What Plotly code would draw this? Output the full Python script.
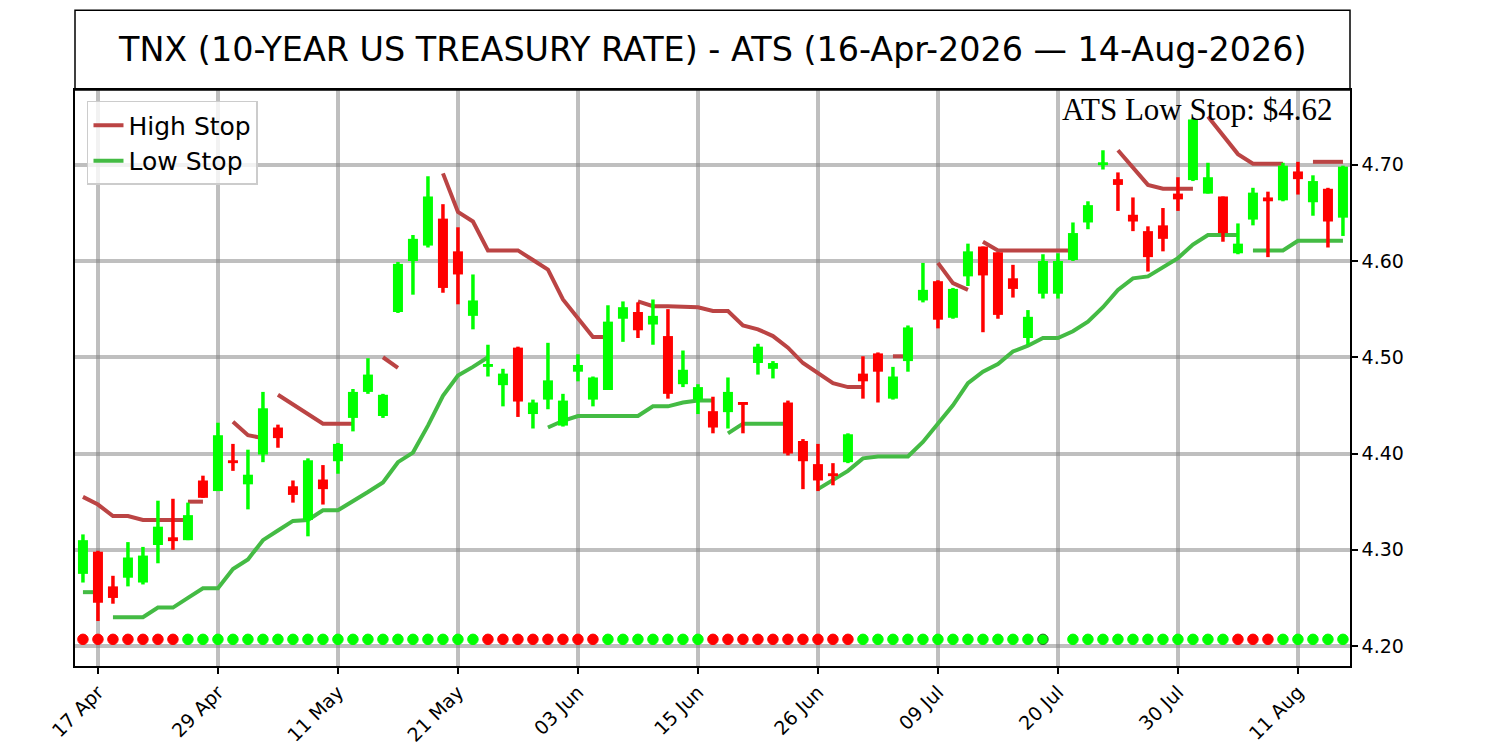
import plotly.graph_objects as go

# values; x is the trading-day position
tick_pos = [1, 9, 17, 25, 33, 41, 49, 57, 65, 73, 81]
tick_labels = ["17 Apr", "29 Apr", "11 May", "21 May", "03 Jun", "15 Jun",
               "26 Jun", "09 Jul", "20 Jul", "30 Jul", "11 Aug"]

opens = [4.275, 4.298, 4.262, 4.271, 4.266, 4.305, 4.313, 4.310, 4.372, 4.361,
         4.393, 4.368, 4.399, 4.427, 4.366, 4.331, 4.373, 4.392, 4.437, 4.464,
         4.439, 4.547, 4.600, 4.616, 4.644, 4.610, 4.543, 4.490, 4.471, 4.510,
         4.441, 4.456, 4.429, 4.485, 4.456, 4.466, 4.540, 4.547, 4.534, 4.522,
         4.472, 4.456, 4.444, 4.443, 4.453, 4.494, 4.488, 4.453, 4.413, 4.389,
         4.379, 4.391, 4.483, 4.504, 4.457, 4.496, 4.559, 4.579, 4.541, 4.584,
         4.615, 4.609, 4.582, 4.520, 4.566, 4.566, 4.601, 4.640, 4.700, 4.685,
         4.648, 4.631, 4.637, 4.670, 4.684, 4.670, 4.667, 4.608, 4.643, 4.666,
         4.663, 4.693, 4.661, 4.675, 4.645]
highs = [4.316, 4.299, 4.273, 4.308, 4.303, 4.351, 4.353, 4.349, 4.377, 4.432,
         4.410, 4.404, 4.464, 4.430, 4.372, 4.395, 4.388, 4.411, 4.467, 4.499,
         4.462, 4.599, 4.627, 4.688, 4.659, 4.635, 4.586, 4.513, 4.488, 4.511,
         4.456, 4.515, 4.462, 4.503, 4.480, 4.554, 4.558, 4.557, 4.560, 4.550,
         4.507, 4.472, 4.459, 4.479, 4.453, 4.514, 4.496, 4.455, 4.415, 4.410,
         4.390, 4.421, 4.501, 4.505, 4.490, 4.533, 4.598, 4.580, 4.572, 4.618,
         4.615, 4.609, 4.596, 4.549, 4.607, 4.608, 4.640, 4.662, 4.715, 4.692,
         4.666, 4.636, 4.655, 4.687, 4.748, 4.702, 4.667, 4.639, 4.676, 4.672,
         4.702, 4.703, 4.689, 4.676, 4.699]
lows = [4.266, 4.226, 4.244, 4.262, 4.264, 4.286, 4.300, 4.310, 4.354, 4.361,
        4.382, 4.342, 4.391, 4.406, 4.349, 4.314, 4.347, 4.379, 4.423, 4.462,
        4.437, 4.546, 4.565, 4.614, 4.567, 4.555, 4.529, 4.480, 4.449, 4.438,
        4.426, 4.446, 4.428, 4.475, 4.449, 4.466, 4.516, 4.520, 4.513, 4.457,
        4.469, 4.441, 4.421, 4.426, 4.421, 4.482, 4.478, 4.398, 4.363, 4.361,
        4.367, 4.390, 4.457, 4.453, 4.456, 4.485, 4.557, 4.530, 4.540, 4.574,
        4.526, 4.540, 4.562, 4.513, 4.561, 4.561, 4.600, 4.633, 4.695, 4.652,
        4.631, 4.589, 4.610, 4.652, 4.683, 4.670, 4.620, 4.607, 4.637, 4.604,
        4.662, 4.669, 4.647, 4.614, 4.626]
closes = [4.310, 4.245, 4.250, 4.292, 4.294, 4.324, 4.309, 4.336, 4.354, 4.419,
          4.390, 4.378, 4.447, 4.416, 4.357, 4.393, 4.363, 4.410, 4.464, 4.482,
          4.461, 4.597, 4.623, 4.667, 4.572, 4.586, 4.559, 4.493, 4.483, 4.454,
          4.453, 4.476, 4.455, 4.492, 4.479, 4.537, 4.552, 4.528, 4.543, 4.462,
          4.487, 4.469, 4.427, 4.464, 4.451, 4.511, 4.494, 4.400, 4.392, 4.372,
          4.377, 4.420, 4.475, 4.485, 4.480, 4.531, 4.570, 4.539, 4.571, 4.610,
          4.585, 4.544, 4.571, 4.542, 4.600, 4.600, 4.629, 4.658, 4.702, 4.679,
          4.641, 4.604, 4.623, 4.664, 4.747, 4.687, 4.629, 4.618, 4.671, 4.662,
          4.699, 4.685, 4.683, 4.641, 4.698]

# stop lines come in pieces: (first position, values)
high_stop_segments = [
    (0, [4.355, 4.347, 4.335, 4.335, 4.331, 4.331, 4.331, 4.331]),
    (7, [4.350, 4.350]),
    (10, [4.433, 4.419, 4.416]),
    (13, [4.461, 4.451, 4.441, 4.431, 4.431, 4.431]),
    (20, [4.500, 4.489]),
    (24, [4.691, 4.651, 4.641, 4.611, 4.611, 4.611, 4.601, 4.591, 4.560,
          4.540, 4.521, 4.521]),
    (37, [4.558, 4.553, 4.553, 4.552, 4.552, 4.548, 4.548, 4.533, 4.529,
          4.522, 4.510, 4.494, 4.483, 4.473, 4.469, 4.469]),
    (54, [4.501, 4.501]),
    (57, [4.598, 4.577, 4.570]),
    (60, [4.620, 4.611, 4.611, 4.611, 4.611, 4.611, 4.611]),
    (69, [4.715, 4.697, 4.679, 4.675, 4.675, 4.675]),
    (75, [4.750, 4.731, 4.711, 4.701, 4.701, 4.701]),
    (82, [4.703, 4.703, 4.703]),
]
low_stop_segments = [
    (0, [4.256, 4.256]),
    (2, [4.230, 4.230, 4.230, 4.240, 4.240, 4.250, 4.260, 4.260, 4.280, 4.290,
         4.310, 4.320, 4.330, 4.331, 4.341, 4.341, 4.350, 4.360, 4.370, 4.391,
         4.401, 4.429, 4.460, 4.481, 4.490, 4.500]),
    (31, [4.427, 4.434, 4.439, 4.439, 4.439, 4.439, 4.439, 4.449, 4.449,
          4.453, 4.455, 4.455]),
    (43, [4.421, 4.431, 4.431, 4.431, 4.431]),
    (49, [4.363, 4.372, 4.382, 4.395, 4.397, 4.397, 4.397, 4.412, 4.431,
          4.450, 4.473, 4.485, 4.493, 4.506, 4.512, 4.520, 4.520, 4.527,
          4.537, 4.552, 4.570, 4.582, 4.584, 4.593, 4.603, 4.617, 4.627,
          4.627, 4.627]),
    (78, [4.611, 4.611, 4.611, 4.621, 4.621, 4.621, 4.621]),
]

# trend dots along the bottom: U up, D down, - no dot
trend = ("DDDDDDD" + "U" * 20 + "D" * 8 + "U" * 7 + "D" * 10 + "U" * 13 + "-"
         + "U" * 11 + "DDD" + "U" * 5)
outlined_dots = [64]
dot_level = 4.207
last_low_stop = 4.62

title = "TNX (10-YEAR US TREASURY RATE) - ATS (16-Apr-2026 \u2014 14-Aug-2026)"

UP = "#00ff00"
DOWN = "#ff0000"
HIGH_C = "#bb4444"
LOW_C = "#44bb44"
FONT = "DejaVu Sans"


def seg_xy(segments):
    xs, ys = [], []
    for start, vals in segments:
        xs += list(range(start, start + len(vals))) + [None]
        ys += list(vals) + [None]
    return xs, ys


def candle_xy(up):
    wx, wy, bx, by = [], [], [], []
    for i, (o, h, l, c) in enumerate(zip(opens, highs, lows, closes)):
        if (c >= o) != up:
            continue
        wx += [i, i, None]
        wy += [l, h, None]
        b0, b1 = min(o, c), max(o, c)
        if b1 - b0 < 0.003:
            mid = (b0 + b1) / 2
            b0, b1 = mid - 0.0015, mid + 0.0015
        bx += [i, i, None]
        by += [b0, b1, None]
    return wx, wy, bx, by


fig = go.Figure()

hx, hy = seg_xy(high_stop_segments)
lx, ly = seg_xy(low_stop_segments)
fig.add_trace(go.Scatter(x=hx, y=hy, mode="lines", name="High Stop",
                         line=dict(color=HIGH_C, width=4)))
fig.add_trace(go.Scatter(x=lx, y=ly, mode="lines", name="Low Stop",
                         line=dict(color=LOW_C, width=4)))

for up, col in [(False, DOWN), (True, UP)]:
    wx, wy, bx, by = candle_xy(up)
    fig.add_trace(go.Scatter(x=wx, y=wy, mode="lines", showlegend=False,
                             line=dict(color=col, width=3.5), hoverinfo="skip"))
    fig.add_trace(go.Scatter(x=bx, y=by, mode="lines", showlegend=False,
                             line=dict(color=col, width=10), hoverinfo="skip"))

dx = [i for i, t in enumerate(trend) if t != "-"]
dcol = [UP if trend[i] == "U" else DOWN for i in dx]
dedge = ["#1f7a1f" if i in outlined_dots else c for i, c in zip(dx, dcol)]
fig.add_trace(go.Scatter(x=dx, y=[dot_level] * len(dx), mode="markers",
                         showlegend=False,
                         marker=dict(size=10.5, color=dcol,
                                     line=dict(color=dedge, width=1))))

grid = "rgba(128,128,128,0.5)"
fig.update_xaxes(range=[-0.53, 84.47], tickvals=tick_pos, ticktext=tick_labels,
                 tickangle=-45, ticks="outside", ticklen=6, tickwidth=1.5,
                 tickcolor="black", showline=True, mirror=True,
                 linecolor="black", linewidth=1.5, showgrid=True,
                 gridcolor=grid, gridwidth=4, zeroline=False,
                 tickfont=dict(family=FONT, size=19, color="black"))
fig.update_yaxes(side="right", range=[4.1793, 4.7776],
                 tickvals=[4.2, 4.3, 4.4, 4.5, 4.6, 4.7], tickformat=".2f",
                 ticks="outside", ticklen=6, tickwidth=1.5, tickcolor="black",
                 showline=True, mirror=True, linecolor="black", linewidth=1.5,
                 showgrid=True, gridcolor=grid, gridwidth=4, zeroline=False,
                 tickfont=dict(family=FONT, size=19, color="black"))

fig.add_shape(type="rect", xref="paper", yref="paper", x0=0, x1=1,
              y0=1, y1=1.1384, line=dict(color="black", width=1.5))
fig.add_annotation(text=title, xref="paper", yref="paper", x=0.5, y=1.0699,
                   xanchor="center", yanchor="middle", showarrow=False,
                   font=dict(family=FONT, size=33.4, color="black"))
fig.add_annotation(text=f"ATS Low Stop: ${last_low_stop:.2f}", xref="paper",
                   yref="paper", x=0.9875, y=0.9654, xanchor="right",
                   yanchor="middle", showarrow=False,
                   font=dict(family="Liberation Serif", size=31, color="black"))

# the page body adds an 8px offset, so the margins are shifted to match
fig.update_layout(
    width=1500, height=750,
    margin=dict(l=67, r=158, t=82, b=90),
    plot_bgcolor="white", paper_bgcolor="white",
    font=dict(family=FONT, color="black"),
    showlegend=True,
    legend=dict(x=0.0094, y=0.981, xanchor="left", yanchor="top",
                bgcolor="rgba(255,255,255,0.8)", bordercolor="#cccccc",
                borderwidth=1.5, itemwidth=30,
                font=dict(family=FONT, size=25, color="black")),
)

fig.write_html("out.html")
